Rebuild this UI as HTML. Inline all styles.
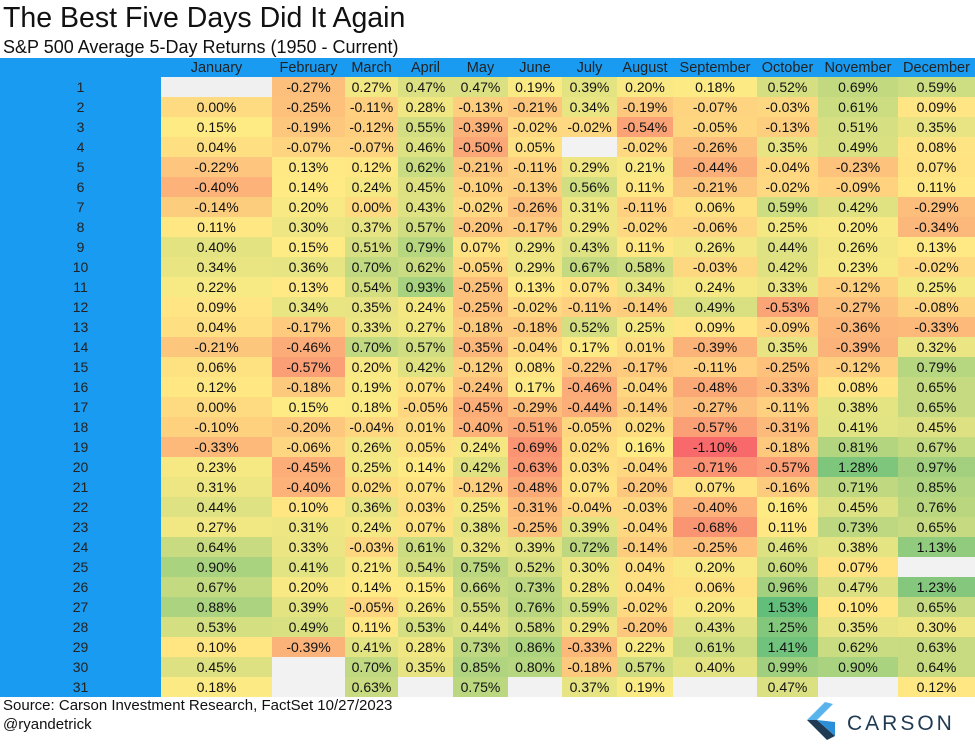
<!DOCTYPE html>
<html><head><meta charset="utf-8">
<style>
body{margin:0;width:975px;height:751px;background:#fff;font-family:"Liberation Sans",sans-serif;position:relative;overflow:hidden}
.abs{position:absolute}
.cell{position:absolute;height:20px;line-height:20px;text-align:center;font-size:14px;color:#111;box-sizing:border-box}
.hdr{position:absolute;top:58px;height:19px;line-height:21px;text-align:center;font-size:14.5px;color:#222}
</style></head><body>
<div class="abs" style="left:3px;top:2px;font-size:28.5px;color:#111">The Best Five Days Did It Again</div>
<div class="abs" style="left:3px;top:37px;font-size:18px;color:#111">S&amp;P 500 Average 5-Day Returns (1950 - Current)</div>
<div class="abs" style="left:0;top:58px;width:975px;height:19px;background:#1a9bf2"></div>
<div class="abs" style="left:0;top:58px;width:161px;height:639px;background:#1a9bf2"></div>
<div id="grid"></div>
<div class="abs" style="left:3px;top:697px;font-size:15px;color:#111">Source: Carson Investment Research, FactSet 10/27/2023</div>
<div class="abs" style="left:3px;top:716px;font-size:15px;color:#111">@ryandetrick</div>
<svg class="abs" style="left:805px;top:700px" width="170" height="50">
<polygon points="20,2 2,20 12,20 28,4" fill="#5ab4ec"/>
<polygon points="2,20 22,40 30,36 12,20" fill="#1f3a52"/>
<polygon points="12,20 30,36 30,22" fill="#2a8fd8"/>
<text x="42" y="30" font-family="Liberation Sans" font-size="21" letter-spacing="3" fill="#1f3a52">CARSON</text>
</svg>
<script>
const months=["January","February","March","April","May","June","July","August","September","October","November","December"];
const jan=[null,0.00,0.15,0.04,-0.22,-0.40,-0.14,0.11,0.40,0.34,0.22,0.09,0.04,-0.21,0.06,0.12,0.00,-0.10,-0.33,0.23,0.31,0.44,0.27,0.64,0.90,0.67,0.88,0.53,0.10,0.45,0.18];
const feb=[-0.27,-0.25,-0.19,-0.07,0.13,0.14,0.20,0.30,0.15,0.36,0.13,0.34,-0.17,-0.46,-0.57,-0.18,0.15,-0.20,-0.06,-0.45,-0.40,0.10,0.31,0.33,0.41,0.20,0.39,0.49,-0.39,null,null];
const mar=[0.27,-0.11,-0.12,-0.07,0.12,0.24,0.00,0.37,0.51,0.70,0.54,0.35,0.33,0.70,0.20,0.19,0.18,-0.04,0.26,0.25,0.02,0.36,0.24,-0.03,0.21,0.14,-0.05,0.11,0.41,0.70,0.63];
const apr=[0.47,0.28,0.55,0.46,0.62,0.45,0.43,0.57,0.79,0.62,0.93,0.24,0.27,0.57,0.42,0.07,-0.05,0.01,0.05,0.14,0.07,0.03,0.07,0.61,0.54,0.15,0.26,0.53,0.28,0.35,null];
const may=[0.47,-0.13,-0.39,-0.50,-0.21,-0.10,-0.02,-0.20,0.07,-0.05,-0.25,-0.25,-0.18,-0.35,-0.12,-0.24,-0.45,-0.40,0.24,0.42,-0.12,0.25,0.38,0.32,0.75,0.66,0.55,0.44,0.73,0.85,0.75];
const jun=[0.19,-0.21,-0.02,0.05,-0.11,-0.13,-0.26,-0.17,0.29,0.29,0.13,-0.02,-0.18,-0.04,0.08,0.17,-0.29,-0.51,-0.69,-0.63,-0.48,-0.31,-0.25,0.39,0.52,0.73,0.76,0.58,0.86,0.80,null];
const jul=[0.39,0.34,-0.02,null,0.29,0.56,0.31,0.29,0.43,0.67,0.07,-0.11,0.52,0.17,-0.22,-0.46,-0.44,-0.05,0.02,0.03,0.07,-0.04,0.39,0.72,0.30,0.28,0.59,0.29,-0.33,-0.18,0.37];
const aug=[0.20,-0.19,-0.54,-0.02,0.21,0.11,-0.11,-0.02,0.11,0.58,0.34,-0.14,0.25,0.01,-0.17,-0.04,-0.14,0.02,0.16,-0.04,-0.20,-0.03,-0.04,-0.14,0.04,0.04,-0.02,-0.20,0.22,0.57,0.19];
const sep=[0.18,-0.07,-0.05,-0.26,-0.44,-0.21,0.06,-0.06,0.26,-0.03,0.24,0.49,0.09,-0.39,-0.11,-0.48,-0.27,-0.57,-1.10,-0.71,0.07,-0.40,-0.68,-0.25,0.20,0.06,0.20,0.43,0.61,0.40,null];
const oct=[0.52,-0.03,-0.13,0.35,-0.04,-0.02,0.59,0.25,0.44,0.42,0.33,-0.53,-0.09,0.35,-0.25,-0.33,-0.11,-0.31,-0.18,-0.57,-0.16,0.16,0.11,0.46,0.60,0.96,1.53,1.25,1.41,0.99,0.47];
const nov=[0.69,0.61,0.51,0.49,-0.23,-0.09,0.42,0.20,0.26,0.23,-0.12,-0.27,-0.36,-0.39,-0.12,0.08,0.38,0.41,0.81,1.28,0.71,0.45,0.73,0.38,0.07,0.47,0.10,0.35,0.62,0.90,null];
const dec=[0.59,0.09,0.35,0.08,0.07,0.11,-0.29,-0.34,0.13,-0.02,0.25,-0.08,-0.33,0.32,0.79,0.65,0.65,0.45,0.67,0.97,0.85,0.76,0.65,1.13,null,1.23,0.65,0.30,0.63,0.64,0.12];
const series=[jan,feb,mar,apr,may,jun,jul,aug,sep,oct,nov,dec];
const edges=[161,272,345,398,453,508,562,617,673,757,818,898,975];
const top0=77,rowH=20;
const all=series.flat().filter(v=>v!==null).sort((a,b)=>a-b);
const vmin=all[0],vmax=all[all.length-1];
const n=all.length, vmid=n%2?all[(n-1)/2]:(all[n/2-1]+all[n/2])/2;
const lo=[248,105,107],mid=[255,235,132],hi=[99,190,123];
function col(v){let a,b,t;if(v<=vmid){a=lo;b=mid;t=(v-vmin)/(vmid-vmin);}else{a=mid;b=hi;t=(v-vmid)/(vmax-vmid);}
t=Math.max(0,Math.min(1,t));return 'rgb('+a.map((x,i)=>Math.round(x+(b[i]-x)*t)).join(',')+')';}
const g=document.getElementById('grid');
months.forEach((m,c)=>{
 const h=document.createElement('div');h.className='hdr';
 
 
 h.style.left=edges[c]+'px';h.style.width=(edges[c+1]-edges[c])+'px';h.textContent=m;g.appendChild(h);
});
for(let r=0;r<31;r++){
 const d=document.createElement('div');d.className='cell';
 
 
 d.style.left='0px';d.style.width='161px';d.style.top=(top0+r*rowH)+'px';d.style.color='#222';d.textContent=r+1;g.appendChild(d);
 series.forEach((s,c)=>{
  const v=s[r];const e=document.createElement('div');e.className='cell';
  
  
  e.style.left=edges[c]+'px';e.style.width=(edges[c+1]-edges[c])+'px';e.style.top=(top0+r*rowH)+'px';
  if(v===null){e.style.background=(c===0&&r===0)?'#f0f0f0':'#f2f2f2';}
  else{e.style.background=col(v);e.textContent=v.toFixed(2)+'%';}
  g.appendChild(e);
 });
}
</script>
</body></html>
